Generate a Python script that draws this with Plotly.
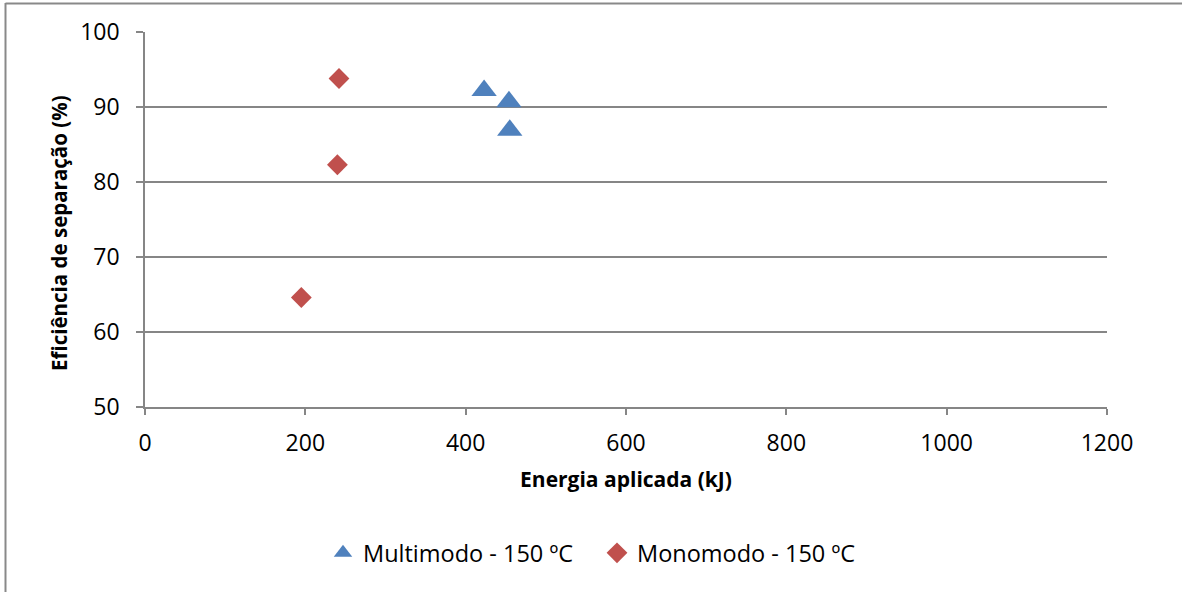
import plotly.graph_objects as go

multi_x = [423, 454, 455]
multi_y = [92.2, 90.7, 86.9]
mono_x = [242, 240, 195]
mono_y = [93.8, 82.3, 64.6]

x_ticks = [0, 200, 400, 600, 800, 1000, 1200]
y_ticks = [50, 60, 70, 80, 90, 100]

FONT = "Open Sans"

fig = go.Figure()
fig.add_trace(go.Scatter(x=multi_x, y=multi_y, mode="markers", name="Multimodo - 150 ºC",
                         marker=dict(symbol="triangle-up", size=22, color="#4F81BD")))
fig.add_trace(go.Scatter(x=mono_x, y=mono_y, mode="markers", name="Monomodo - 150 ºC",
                         marker=dict(symbol="diamond", size=16, color="#C0504D")))

W, H = 1182, 592
L, R, T, B = 145, 75, 32, 185
pw, ph = W - L - R, H - T - B

def px(x):
    return (x - L) / pw

def py(y):
    return (H - B - y) / ph

fig.update_layout(
    width=W, height=H,
    margin=dict(l=L, r=R, t=T, b=B),
    paper_bgcolor="white", plot_bgcolor="white",
    font=dict(family=FONT, size=20, color="black"),
    showlegend=True,
    legend=dict(orientation="h", x=px(323), xanchor="left", y=py(553), yanchor="middle",
                font=dict(size=23.5), itemsizing="trace", traceorder="normal",
                entrywidth=229, entrywidthmode="pixels"),
    xaxis=dict(range=[0, 1200], tickvals=x_ticks, showgrid=False, zeroline=False,
               showline=True, linecolor="#868686", linewidth=1.5,
               ticks="outside", ticklen=6, tickcolor="#868686", tickwidth=1.5,
               tickfont=dict(size=23), ticklabelstandoff=9,
               title=dict(text="<b>Energia aplicada (kJ)</b>", font=dict(size=21), standoff=15)),
    yaxis=dict(range=[50, 100], tickvals=y_ticks, showgrid=True, gridcolor="#868686", gridwidth=1.5,
               zeroline=False, showline=True, linecolor="#868686", linewidth=1.5,
               ticks="outside", ticklen=7, tickcolor="#868686", tickwidth=1.5,
               tickfont=dict(size=23), ticklabelstandoff=12),
    annotations=[
        dict(text="<b>Eficiência de separação (%)</b>", xref="paper", yref="paper",
             x=px(59), y=py(233), xanchor="center", yanchor="middle", textangle=-90,
             showarrow=False, font=dict(size=20.5)),
    ],
    shapes=[
        dict(type="line", xref="paper", yref="paper", x0=px(5.5), x1=px(5.5), y0=py(3), y1=py(620),
             line=dict(color="#898989", width=2)),
        dict(type="line", xref="paper", yref="paper", x0=px(5.5), x1=px(1200), y0=py(3.5), y1=py(3.5),
             line=dict(color="#898989", width=2)),
    ],
)

fig.write_html("out.html")
